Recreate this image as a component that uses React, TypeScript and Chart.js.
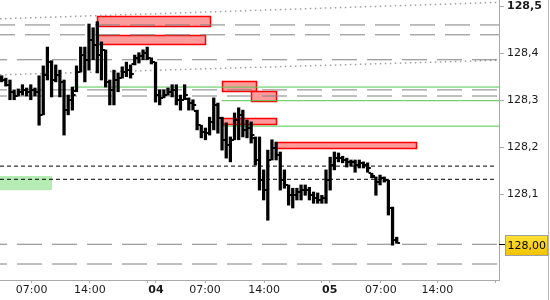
import React, { useEffect, useRef } from 'react';
import { Chart, registerables } from 'chart.js';
Chart.register(...registerables);

const OPEN = [128.347, 128.343, 128.333, 128.318, 128.309, 128.318, 128.322, 128.318, 128.322, 128.318, 128.269, 128.354, 128.381, 128.343, 128.354, 128.339, 128.279, 128.301, 128.320, 128.360, 128.396, 128.386, 128.428, 128.418, 128.396, 128.407, 128.339, 128.322, 128.343, 128.347, 128.360, 128.364, 128.377, 128.390, 128.394, 128.401, 128.390, 128.381, 128.311, 128.305, 128.311, 128.318, 128.322, 128.301, 128.301, 128.303, 128.294, 128.277, 128.247, 128.233, 128.230, 128.254, 128.290, 128.262, 128.216, 128.205, 128.216, 128.258, 128.269, 128.237, 128.241, 128.220, 128.173, 128.130, 128.109, 128.173, 128.199, 128.184, 128.130, 128.120, 128.098, 128.098, 128.105, 128.109, 128.109, 128.098, 128.092, 128.088, 128.092, 128.130, 128.162, 128.177, 128.177, 128.173, 128.169, 128.169, 128.162, 128.167, 128.162, 128.145, 128.137, 128.126, 128.135, 128.130, 128.071, 128.003];
const HIGH = [128.352, 128.347, 128.343, 128.322, 128.324, 128.333, 128.326, 128.333, 128.326, 128.352, 128.373, 128.413, 128.384, 128.375, 128.364, 128.343, 128.311, 128.328, 128.373, 128.413, 128.413, 128.462, 128.454, 128.467, 128.424, 128.407, 128.343, 128.364, 128.358, 128.371, 128.381, 128.375, 128.396, 128.401, 128.407, 128.413, 128.390, 128.381, 128.322, 128.322, 128.326, 128.333, 128.333, 128.311, 128.333, 128.305, 128.301, 128.279, 128.247, 128.241, 128.264, 128.305, 128.294, 128.264, 128.252, 128.222, 128.273, 128.284, 128.279, 128.258, 128.254, 128.222, 128.222, 128.152, 128.194, 128.216, 128.211, 128.190, 128.152, 128.120, 128.113, 128.113, 128.120, 128.120, 128.115, 128.105, 128.103, 128.098, 128.152, 128.179, 128.190, 128.188, 128.181, 128.177, 128.173, 128.173, 128.173, 128.169, 128.167, 128.145, 128.137, 128.141, 128.137, 128.130, 128.073, 128.009];
const LOW = [128.339, 128.330, 128.301, 128.301, 128.309, 128.311, 128.309, 128.301, 128.309, 128.247, 128.269, 128.343, 128.307, 128.339, 128.307, 128.226, 128.269, 128.279, 128.318, 128.360, 128.339, 128.364, 128.386, 128.358, 128.343, 128.328, 128.290, 128.290, 128.318, 128.347, 128.350, 128.347, 128.375, 128.379, 128.386, 128.386, 128.377, 128.296, 128.290, 128.305, 128.311, 128.307, 128.290, 128.279, 128.301, 128.279, 128.279, 128.237, 128.220, 128.216, 128.226, 128.237, 128.230, 128.194, 128.177, 128.169, 128.216, 128.216, 128.222, 128.220, 128.209, 128.162, 128.109, 128.088, 128.045, 128.173, 128.173, 128.109, 128.113, 128.077, 128.071, 128.088, 128.088, 128.098, 128.088, 128.081, 128.081, 128.081, 128.081, 128.109, 128.152, 128.169, 128.167, 128.158, 128.160, 128.147, 128.156, 128.156, 128.147, 128.135, 128.098, 128.120, 128.126, 128.056, 127.992, 127.996];
const CLOSE = [128.343, 128.333, 128.318, 128.309, 128.318, 128.322, 128.318, 128.322, 128.318, 128.269, 128.354, 128.381, 128.343, 128.354, 128.339, 128.279, 128.301, 128.311, 128.360, 128.396, 128.386, 128.428, 128.418, 128.396, 128.407, 128.339, 128.322, 128.343, 128.347, 128.360, 128.364, 128.356, 128.390, 128.394, 128.401, 128.390, 128.381, 128.311, 128.305, 128.311, 128.318, 128.322, 128.301, 128.301, 128.311, 128.294, 128.290, 128.247, 128.233, 128.230, 128.254, 128.290, 128.262, 128.216, 128.205, 128.216, 128.258, 128.269, 128.237, 128.241, 128.226, 128.173, 128.130, 128.109, 128.173, 128.199, 128.184, 128.130, 128.120, 128.098, 128.098, 128.105, 128.109, 128.109, 128.098, 128.092, 128.088, 128.092, 128.130, 128.162, 128.177, 128.177, 128.173, 128.169, 128.169, 128.162, 128.167, 128.162, 128.156, 128.139, 128.126, 128.135, 128.130, 128.071, 128.003, 127.996];

const X_MIN = -0.4;
const X_MAX = 119.6;
const Y_MIN = 127.918;
const Y_MAX = 128.513;
const X_TICK_VALUES = [7.2, 21.2, 35.1, 37.1, 48.9, 63.1, 76.8, 78.9, 91.2, 104.8, 118.8];
const X_TICK_LABELS = ['07:00', '14:00', '', '04', '07:00', '14:00', '', '05', '07:00', '14:00', ''];
const Y_TICK_VALUES = [128.1, 128.2, 128.3, 128.4, 128.5];

const GRAY_LEVELS = [128.460, 128.439, 128.386, 128.322, 128.309, 127.994, 127.952];
const GRAY_PHASE = [10, 10, 18, 18, 18, 18, 18];
const BLACK_DASH_LEVELS = [128.160, 128.132];
const BLACK_DASH_END = 118.6;
const GREEN_LEVELS = [128.328, 128.299, 128.245];
const GREEN_START = [16.9, 52.9, 52.9];
const TREND_UPPER = [128.473, 128.508];
const TREND_LOWER = [128.354, 128.385];

const RED_X0 = [22.9, 22.9, 53.0, 60.0, 53.0, 66.0];
const RED_X1 = [50.1, 48.9, 61.2, 66.0, 66.0, 99.6];
const RED_TOP = [128.479, 128.439, 128.341, 128.320, 128.262, 128.211];
const RED_BOTTOM = [128.458, 128.420, 128.320, 128.299, 128.250, 128.199];
const GREEN_BOX_X = [-0.4, 12.1];
const GREEN_BOX_Y = [128.139, 128.109];

const FONT = 'DejaVu Sans';

const boxesPlugin = {
  id: 'boxes',
  beforeDatasetsDraw(chart: any) {
    const { ctx, chartArea, scales } = chart;
    const x = scales.x, y = scales.y;
    ctx.save();
    ctx.beginPath();
    ctx.rect(chartArea.left, chartArea.top, chartArea.right - chartArea.left, chartArea.bottom - chartArea.top);
    ctx.clip();
    ctx.fillStyle = '#b4ecb4';
    {
      const x0 = x.getPixelForValue(GREEN_BOX_X[0]);
      const x1 = x.getPixelForValue(GREEN_BOX_X[1]);
      const y0 = y.getPixelForValue(GREEN_BOX_Y[0]);
      const y1 = y.getPixelForValue(GREEN_BOX_Y[1]);
      ctx.fillRect(x0, y0, x1 - x0, y1 - y0);
    }
    for (let i = 0; i < RED_X0.length; i++) {
      const x0 = Math.round(x.getPixelForValue(RED_X0[i])) + 0.5;
      const x1 = Math.round(x.getPixelForValue(RED_X1[i])) + 0.5;
      const y0 = Math.round(y.getPixelForValue(RED_TOP[i])) + 0.5;
      const y1 = Math.round(y.getPixelForValue(RED_BOTTOM[i])) + 0.5;
      ctx.fillStyle = '#ff9b9b';
      ctx.fillRect(x0, y0, x1 - x0, y1 - y0);
      ctx.strokeStyle = '#ff0000';
      ctx.lineWidth = 1.5;
      ctx.strokeRect(x0, y0, x1 - x0, y1 - y0);
    }
    ctx.restore();
  },
};

const ohlcTicksPlugin = {
  id: 'ohlcTicks',
  afterDatasetsDraw(chart: any) {
    const { ctx, scales } = chart;
    const x = scales.x, y = scales.y;
    ctx.save();
    ctx.fillStyle = '#000';
    for (let i = 0; i < OPEN.length; i++) {
      const px = x.getPixelForValue(i);
      const yo = y.getPixelForValue(OPEN[i]);
      const yc = y.getPixelForValue(CLOSE[i]);
      ctx.fillRect(px - 3.2, Math.round(yo) - 1, 2.4, 2);
      ctx.fillRect(px + 0.8, Math.round(yc) - 1, 2.4, 2);
    }
    ctx.restore();
  },
};

const framePlugin = {
  id: 'frame',
  afterDraw(chart: any) {
    const { ctx, chartArea, scales, width, height } = chart;
    const y = scales.y;
    ctx.save();
    ctx.strokeStyle = '#b4b4b4';
    ctx.lineWidth = 1;
    ctx.beginPath();
    ctx.moveTo(width - 1.5, 0);
    ctx.lineTo(width - 1.5, height);
    ctx.stroke();
    const last = CLOSE[CLOSE.length - 1];
    const py = Math.round(y.getPixelForValue(last)) + 1.5;
    ctx.strokeStyle = '#000';
    ctx.beginPath();
    ctx.moveTo(chartArea.right, py);
    ctx.lineTo(chartArea.right + 6, py);
    ctx.stroke();
    const bx = chartArea.right + 6.5;
    const by = Math.round(py - 10) + 0.5;
    const grad = ctx.createLinearGradient(0, by, 0, by + 20);
    grad.addColorStop(0, '#ffe23a');
    grad.addColorStop(1, '#f2c200');
    ctx.fillStyle = grad;
    ctx.fillRect(bx, by, 42, 20);
    ctx.strokeStyle = '#a0a0a0';
    ctx.strokeRect(bx, by, 42, 20);
    ctx.fillStyle = '#000';
    ctx.font = `11px "${FONT}"`;
    ctx.textBaseline = 'middle';
    ctx.textAlign = 'left';
    ctx.fillText(last.toFixed(2).replace('.', ','), bx + 2, by + 10.5);
    ctx.restore();
  },
};

function hLine(yStart: number, yEnd: number, xStart: number, xEnd: number, color: string, dash: number[], phase: number, width: number) {
  return {
    type: 'line' as const,
    data: [
      { x: xStart, y: yStart },
      { x: xEnd, y: yEnd },
    ],
    borderColor: color,
    borderWidth: width,
    borderDash: dash,
    borderDashOffset: phase,
    pointRadius: 0,
    fill: false,
    order: 2,
  };
}

export default function App() {
  const ref = useRef<HTMLCanvasElement | null>(null);
  useEffect(() => {
    document.body.style.margin = '0';
    const canvas = ref.current;
    if (!canvas) return;
    const datasets: any[] = [];
    datasets.push({
      type: 'bar',
      data: LOW.map((l, i) => ({ x: i, y: [l, HIGH[i]] })),
      backgroundColor: '#000',
      barThickness: 2.6,
      grouped: false,
      order: 0,
    });
    GRAY_LEVELS.forEach((v, i) => datasets.push(hLine(v, v, X_MIN, X_MAX, '#808080', [25, 10], GRAY_PHASE[i], 1)));
    datasets.push(hLine(TREND_UPPER[0], TREND_UPPER[1], X_MIN, X_MAX, '#a0a0a0', [1.5, 3.5], 0, 1.5));
    datasets.push(hLine(TREND_LOWER[0], TREND_LOWER[1], X_MIN, X_MAX, '#a0a0a0', [1.5, 3.5], 0, 1.5));
    BLACK_DASH_LEVELS.forEach((v) => datasets.push(hLine(v, v, X_MIN, BLACK_DASH_END, '#000', [4, 3], 0, 1)));
    GREEN_LEVELS.forEach((v, i) => datasets.push(hLine(v, v, GREEN_START[i], X_MAX, '#50c850', [], 0, 1)));

    const chart = new Chart(canvas, {
      type: 'line',
      data: { datasets },
      plugins: [boxesPlugin, ohlcTicksPlugin, framePlugin],
      options: {
        animation: false,
        responsive: false,
        devicePixelRatio: 1,
        layout: { padding: 0 },
        plugins: { legend: { display: false }, tooltip: { enabled: false } },
        scales: {
          x: {
            type: 'linear',
            min: X_MIN,
            max: X_MAX,
            offset: false,
            position: 'bottom',
            grid: { display: true, drawOnChartArea: false, drawTicks: true, tickLength: 3, color: '#aaaaaa', offset: false },
            border: { display: true, color: '#aaaaaa' },
            afterBuildTicks: (scale: any) => {
              scale.ticks = X_TICK_VALUES.map((v) => ({ value: v }));
            },
            afterFit: (scale: any) => {
              scale.height = 20;
              scale.paddingLeft = 0;
              scale.paddingRight = 0;
              scale.paddingTop = 0;
              scale.paddingBottom = 0;
            },
            ticks: {
              autoSkip: false,
              maxRotation: 0,
              minRotation: 0,
              padding: 1,
              color: '#1a1a1a',
              font: (ctx: any) => {
                const lbl = X_TICK_LABELS[ctx.index] || '';
                return { family: FONT, size: 11, weight: lbl.length === 2 ? 'bold' : 'normal' };
              },
              callback: (_v: any, i: number) => X_TICK_LABELS[i],
            },
          },
          y: {
            type: 'linear',
            position: 'right',
            min: Y_MIN,
            max: Y_MAX,
            grid: { display: true, drawOnChartArea: false, drawTicks: true, tickLength: 5, color: '#aaaaaa' },
            border: { display: true, color: '#aaaaaa' },
            afterBuildTicks: (scale: any) => {
              scale.ticks = Y_TICK_VALUES.map((v) => ({ value: v }));
            },
            afterFit: (scale: any) => {
              scale.width = 51;
              scale.paddingLeft = 0;
              scale.paddingRight = 0;
              scale.paddingTop = 0;
              scale.paddingBottom = 0;
            },
            ticks: {
              padding: 3,
              color: '#1a1a1a',
              font: (ctx: any) => ({
                family: FONT,
                size: 11,
                weight: ctx.tick && Math.abs(ctx.tick.value - 128.5) < 1e-6 ? 'bold' : 'normal',
              }),
              callback: (v: any) => Number(v).toFixed(1).replace('.', ','),
            },
          },
        },
      } as any,
    });
    return () => chart.destroy();
  }, []);
  return <canvas ref={ref} width={550} height={300} style={{ display: 'block', width: 550, height: 300 }} />;
}
